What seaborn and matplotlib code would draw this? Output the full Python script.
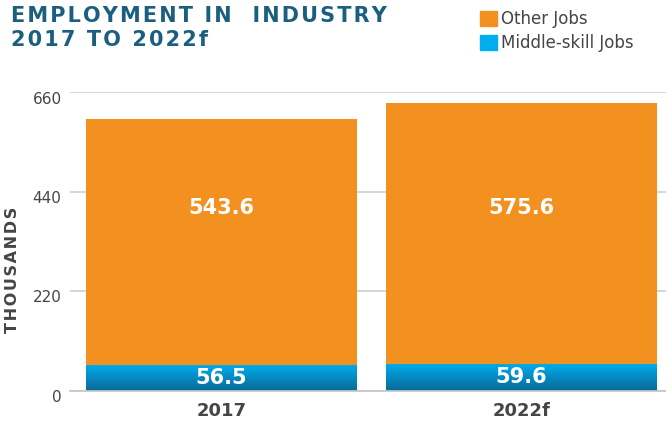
import numpy as np
import matplotlib
matplotlib.use("Agg")
import matplotlib.pyplot as plt
import matplotlib.patches as mpatches
from matplotlib.colors import LinearSegmentedColormap
from matplotlib.transforms import ScaledTranslation
import pandas as pd
import seaborn as sns

# data
years = ["2017", "2022f"]
middle_skill = [56.5, 59.6]
other_jobs = [543.6, 575.6]
yticks = [0, 220, 440, 660]

ORANGE = "#F39120"
BLUE_TOP = "#00AEEF"
BLUE_BOT = "#0A6A9A"
TITLE_C = "#1A5F80"
TEXT_C = "#454545"
HS = "\u200a"  # hair space, used for letter spacing


def spaced(s, sep=HS):
    return sep.join(s)


sns.set_theme(style="white")
plt.rcParams["font.family"] = ["DejaVu Sans"]

df = pd.DataFrame({"year": years, "middle": middle_skill, "other": other_jobs})
df["total"] = df["middle"] + df["other"]

fig = plt.figure(figsize=(6.66, 4.26), dpi=100)
ax = fig.add_axes([0.105, 1 - 390.5 / 426, 0.895, 298.5 / 426])

sns.barplot(data=df, x="year", y="total", color=ORANGE, saturation=1,
            width=0.903, ax=ax, zorder=2)
n_before = len(ax.patches)
sns.barplot(data=df, x="year", y="middle", color=BLUE_TOP, saturation=1,
            width=0.903, ax=ax, zorder=3)

# vertical gradient on the middle-skill segments
cmap = LinearSegmentedColormap.from_list("blu", [BLUE_BOT, BLUE_TOP])
grad = np.linspace(0, 1, 256).reshape(-1, 1)
for p in ax.patches[n_before:]:
    x0, y0, w, h = p.get_x(), p.get_y(), p.get_width(), p.get_height()
    im = ax.imshow(grad, cmap=cmap, origin="lower", aspect="auto",
                   extent=(x0, x0 + w, y0, y0 + h), zorder=3.5)
    im.set_clip_path(p)

for p in ax.patches:
    p.set_linewidth(0)

ax.set_xlim(-0.505, 1.482)
ax.set_ylim(0, 660)
ax.set_yticks(yticks)
ax.set_yticklabels([str(t) for t in yticks], fontsize=11, color=TEXT_C)
ax.yaxis.grid(True, color="#CFCFCF", linewidth=1.2, zorder=0)
ax.set_axisbelow(True)
ax.tick_params(axis="y", length=0, pad=6)
ax.tick_params(axis="x", length=0, pad=8)
# nudge the y tick labels a little below their grid lines
shift = ScaledTranslation(0, -0.055, fig.dpi_scale_trans)
for lab in ax.get_yticklabels():
    lab.set_transform(lab.get_transform() + shift)
ax.set_xticks(range(len(years)))
ax.set_xticklabels(years, fontsize=13, fontweight="bold", color=TEXT_C)
for s in ["top", "right", "left"]:
    ax.spines[s].set_visible(False)
ax.spines["bottom"].set_color("#C4C4C4")
ax.spines["bottom"].set_linewidth(1.2)
ax.spines["bottom"].set_zorder(5)
ax.set_xlabel("")
ax.set_ylabel(spaced("THOUSANDS"), fontsize=11.5, fontweight="bold",
              color=TEXT_C)
ax.yaxis.set_label_coords(-(70 - 20) / (0.895 * 666), (390.5 - 270) / 298.5)

for i in range(len(years)):
    ax.text(i, 404, f"{other_jobs[i]:.1f}", ha="center", va="center",
            color="white", fontsize=15, fontweight="bold", zorder=6)
    ax.text(i, middle_skill[i] / 2, f"{middle_skill[i]:.1f}", ha="center",
            va="center", color="white", fontsize=15, fontweight="bold", zorder=6)

# title
fig.text(11 / 666, 1 - 16 / 426, spaced("EMPLOYMENT IN  INDUSTRY"), fontsize=15,
         fontweight="bold", color=TITLE_C, va="center", ha="left")
fig.text(11 / 666, 1 - 40 / 426, spaced("2017 TO 2022f"), fontsize=15,
         fontweight="bold", color=TITLE_C, va="center", ha="left")

# legend
handles = [mpatches.Patch(color=ORANGE, label="Other Jobs"),
           mpatches.Patch(color=BLUE_TOP, label="Middle-skill Jobs")]
fig.legend(handles=handles, loc="upper left", bbox_to_anchor=(477 / 666, 1 - 7 / 426),
           frameon=False, fontsize=12, labelcolor=TEXT_C, handlelength=1.0,
           handleheight=1.0, handletextpad=0.25, labelspacing=0.35,
           borderaxespad=0, borderpad=0.2)

fig.savefig("out.png", dpi=100)
